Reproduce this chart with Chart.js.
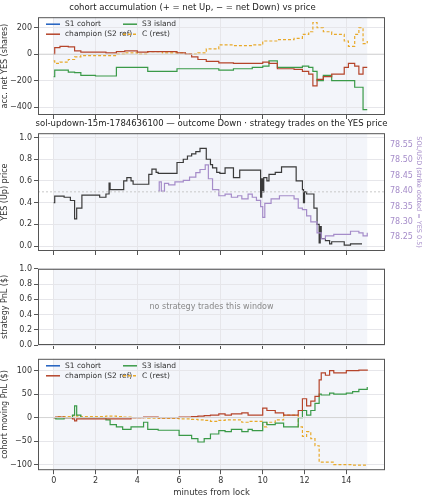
<!DOCTYPE html>
<html><head><meta charset="utf-8">
<script src="https://cdn.jsdelivr.net/npm/chart.js@4"></script>
<style>body{margin:0;background:#fff;width:423px;height:500px;position:relative;overflow:hidden}
.w{position:absolute;left:0;width:423px}</style></head><body>
<div class="w" style="top:0;height:122px"><canvas id="c1" width="423" height="122"></canvas></div>
<div class="w" style="top:116px;height:142px"><canvas id="c2" width="423" height="142"></canvas></div>
<div class="w" style="top:262px;height:90px"><canvas id="c3" width="423" height="90"></canvas></div>
<div class="w" style="top:352px;height:148px"><canvas id="c4" width="423" height="148"></canvas></div>
<script>
// ---- panel 1: accumulation (shares) ----
const accT   = [0,0.05,0.3,0.7,1.0,1.3,2.0,2.5,3.0,3.4,4.0,4.5,5.2,5.9,6.3,6.6,6.9,7.3,7.9,8.6,9.5,10.0,10.3,10.7,11.5,11.9,12.2,12.4,12.6,12.9,13.3,13.6,13.9,14.1,14.4,14.6,14.8,15.0];
const accChamp=[0,50,60,55,25,15,15,10,20,25,15,20,20,10,0,-20,-40,-55,-65,-70,-70,-60,-70,-110,-115,-130,-150,-240,-190,-170,-150,-150,-100,-70,-90,-150,-100,-100];
const accS3  = [-170,-120,-120,-135,-140,-160,-165,-165,-100,-100,-100,-130,-130,-110,-110,-110,-110,-110,-120,-110,-100,-90,-50,-100,-100,-90,-100,-130,-200,-160,-200,-200,-200,-200,-250,-250,-420,-420];
const accC   = [-50,-70,-60,-40,-20,-10,-10,-10,0,10,0,20,10,10,0,0,10,40,70,65,70,100,100,110,120,150,170,240,200,170,150,150,100,60,150,200,80,100];
// ---- panel 2: YES price & SOL ----
const yesT=[0,0.05,0.5,0.8,1.0,1.1,1.35,2.2,2.5,2.65,2.7,3.3,3.35,3.5,3.7,3.8,4.45,4.55,4.7,4.9,5.0,5.9,6.2,6.4,6.6,6.8,7.0,7.25,7.3,7.5,7.6,7.8,7.95,8.2,8.6,8.9,9.8,9.9,9.95,10.0,10.05,10.2,10.3,10.6,10.9,11.55,11.6,11.9,11.95,12.0,12.1,12.2,12.45,12.6,12.7,12.75,12.8,13.0,13.2,13.3,13.9,14.2,14.75];
const yesP=[0.40,0.46,0.45,0.42,0.25,0.35,0.47,0.45,0.48,0.58,0.52,0.52,0.60,0.63,0.60,0.57,0.57,0.66,0.71,0.68,0.67,0.77,0.80,0.83,0.85,0.87,0.90,0.90,0.80,0.75,0.72,0.68,0.67,0.72,0.63,0.70,0.70,0.45,0.62,0.50,0.63,0.60,0.66,0.68,0.73,0.73,0.60,0.52,0.40,0.50,0.48,0.48,0.35,0.20,0.03,0.18,0.07,0.05,0.02,0.04,0.01,0.02,0.02];
const solT=[5.0,5.05,5.15,5.3,5.5,5.8,6.2,6.5,6.8,7.0,7.25,7.4,7.6,7.9,8.2,8.5,8.8,9.0,9.3,9.5,9.7,9.9,10.0,10.1,10.4,10.8,11.3,11.5,11.7,11.9,12.1,12.3,12.6,12.8,13.0,13.4,13.9,14.2,14.6,14.8,15.0];
const solP=[78.40,78.43,78.40,78.425,78.42,78.43,78.435,78.445,78.46,78.47,78.485,78.44,78.405,78.385,78.39,78.38,78.385,78.375,78.39,78.38,78.37,78.35,78.315,78.36,78.375,78.385,78.385,78.375,78.345,78.34,78.32,78.30,78.265,78.245,78.255,78.26,78.26,78.27,78.265,78.255,78.265];
// ---- panel 4: moving PnL ($) ----
const pnlT=[0,0.1,0.5,0.9,1.0,1.1,1.3,2.5,2.7,3.0,3.3,3.7,4.3,4.5,5.0,6.0,6.6,6.9,7.2,7.5,7.9,8.2,8.5,9.0,9.3,9.5,10.0,10.2,10.6,11.0,11.6,11.7,11.9,12.1,12.3,12.5,12.7,12.8,13.0,13.2,13.4,14.0,14.3,14.6,15.0];
const pnlChamp=[0,1,0,-3,-7,-3,-3,-3,-3,-3,-3,0,1,1,0,1,2,3,4,5,8,5,8,10,5,5,20,15,10,5,5,15,40,25,35,45,80,95,90,100,95,100,100,101,102];
const pnlS3=[0,-3,0,5,25,5,0,-5,-15,-20,-25,-20,-10,-25,-27,-38,-45,-52,-45,-35,-28,-30,-25,-30,-25,-28,-10,-15,-12,-20,-20,0,15,5,15,30,50,48,48,52,50,52,55,60,65];
const pnlC=[0,2,2,4,5,3,2,3,3,2,1,0,0,-1,-2,-3,-4,-5,-6,-8,-6,-5,-5,-10,-8,-8,-20,-10,-5,5,5,-20,-40,-30,-45,-60,-95,-95,-95,-95,-100,-100,-101,-101,-102];
const xTicks=[0,2,4,6,8,10,12,14];

const C_S1='#1f5fbf',C_CH='#b5442a',C_S3='#3a9a48',C_C='#e8a92a',C_Y='#3a3a3a',C_SOL='#a58cc9';
const FONT='DejaVu Sans';
Chart.defaults.font.family=FONT; Chart.defaults.font.size=8; Chart.defaults.color='#333';
Chart.defaults.animation=false; Chart.defaults.devicePixelRatio=1;
const pts=(t,v)=>t.map((x,i)=>({x:x,y:v[i]}));
const line=(label,data,color,dash,yAxisID)=>({label,data,borderColor:color,backgroundColor:color,borderWidth:1.2,borderDash:dash||[],stepped:true,pointRadius:0,yAxisID:yAxisID||'y'});

const bgPlugin={id:'bg',beforeDraw(ch,a,o){const {ctx,chartArea:ca,scales}=ch;const x0=scales.x.getPixelForValue(0),x1=scales.x.getPixelForValue(15);
 ctx.save();ctx.fillStyle='#fff';ctx.fillRect(ca.left,ca.top,ca.width,ca.height);ctx.fillStyle='#f3f5fa';ctx.fillRect(x0,ca.top,x1-x0,ca.height);ctx.restore();},
 afterDatasetsDraw(ch,a,o){const {ctx,chartArea:ca,scales}=ch;ctx.save();
  (o.hlines||[]).forEach(h=>{const y=scales.y.getPixelForValue(h.v);ctx.strokeStyle=h.c||'#ccc';ctx.lineWidth=1;ctx.setLineDash(h.d||[]);ctx.beginPath();ctx.moveTo(ca.left,y);ctx.lineTo(ca.right,y);ctx.stroke();});
  ctx.setLineDash([]);ctx.strokeStyle='#555';ctx.lineWidth=1;ctx.strokeRect(ca.left+0.5,ca.top+0.5,ca.width-1,ca.height-1);
  if(o.msg){ctx.fillStyle='#888';ctx.font='8px '+FONT;ctx.textAlign='center';ctx.textBaseline='middle';ctx.fillText(o.msg,(ca.left+ca.right)/2,(ca.top+ca.bottom)/2);}
  if(o.legend){ctx.font='7.5px '+FONT;ctx.textBaseline='middle';ctx.textAlign='left';
   const items=[['S1 cohort',C_S1,[]],['champion (S2 ref)',C_CH,[]],['S3 island',C_S3,[]],['C (rest)',C_C,[3,2]]];
   items.forEach((it,i)=>{const col=Math.floor(i/2),row=i%2;const x=ca.left+8+col*77,y=ca.top+7+row*10;
    ctx.strokeStyle=it[1];ctx.lineWidth=1.5;ctx.setLineDash(it[2]);ctx.beginPath();ctx.moveTo(x,y);ctx.lineTo(x+14,y);ctx.stroke();ctx.setLineDash([]);
    ctx.fillStyle='#333';ctx.fillText(it[0],x+19,y);});}
  ctx.restore();}};

function xScale(labels,title){return {type:'linear',min:-0.75,max:15.85,afterBuildTicks:s=>{s.ticks=xTicks.map(v=>({value:v}));},
 grid:{color:'#e6e6ea',drawTicks:true,tickLength:4,tickColor:'#555'},border:{display:false},
 ticks:{display:labels,maxRotation:0,padding:2,color:'#333'},title:{display:!!title,text:title||'',padding:{top:0,bottom:0},font:{size:8.5}}};}
function yScale(min,max,ticks,title,fmt){return {min,max,afterBuildTicks:s=>{s.ticks=ticks.map(v=>({value:v}));},afterFit:s=>{s.width=38;},
 grid:{color:'#e6e6ea',tickLength:4,tickColor:'#555'},border:{display:false},
 ticks:{padding:2,callback:fmt||(v=>String(v).replace('-','\u2212'))},title:{display:true,text:title,padding:{top:0,bottom:2},font:{size:8}}};}
const titleOpt=t=>({display:true,text:t,font:{size:8.5,weight:'normal'},color:'#222',padding:{top:3,bottom:4}});
const base={responsive:true,maintainAspectRatio:false};

new Chart(document.getElementById('c1'),{type:'line',plugins:[bgPlugin],data:{datasets:[
 line('S1 cohort',[],C_S1),line('champion (S2 ref)',pts(accT,accChamp),C_CH),line('S3 island',pts(accT,accS3),C_S3),line('C (rest)',pts(accT,accC),C_C,[3,2])]},
 options:{...base,layout:{padding:{right:38,bottom:3}},plugins:{legend:{display:false},tooltip:{enabled:false},title:titleOpt('cohort accumulation (+ = net Up, \u2212 = net Down) vs price'),bg:{legend:true,hlines:[{v:0,c:'#d4d4d4'}]}},
 scales:{x:xScale(false),y:yScale(-460,280,[-400,-200,0,200],'acc. net YES (shares)')}}});

new Chart(document.getElementById('c2'),{type:'line',plugins:[bgPlugin],data:{datasets:[
 line('SOL',pts(solT,solP),C_SOL,[],'y2'),line('YES',pts(yesT,yesP),C_Y)]},
 options:{...base,layout:{padding:{bottom:3}},plugins:{legend:{display:false},tooltip:{enabled:false},title:titleOpt('sol-updown-15m-1784636100 \u2014 outcome Down \u00b7 strategy trades on the YES price'),bg:{hlines:[{v:0.5,c:'#c8c8c8',d:[2,2]}]}},
 scales:{x:xScale(false),y:yScale(-0.045,1.04,[0,0.2,0.4,0.6,0.8,1.0],'YES (Up) price',v=>v.toFixed(1)),
  y2:{position:'right',min:78.206,max:78.5875,afterBuildTicks:s=>{s.ticks=[78.25,78.30,78.35,78.40,78.45,78.50,78.55].map(v=>({value:v}));},afterFit:s=>{s.width=38;},
   grid:{display:false,tickLength:3,tickColor:C_SOL},border:{display:false},ticks:{color:C_SOL,padding:2,callback:v=>v.toFixed(2)},
   title:{display:true,text:'SOL/USD (strike dotted = YES 0.5)',color:C_SOL,font:{size:6.5},padding:{top:0,bottom:0}}}}}});

new Chart(document.getElementById('c3'),{type:'line',plugins:[bgPlugin],data:{datasets:[line('none',[],'#000')]},
 options:{...base,layout:{padding:{right:38,top:6,bottom:3}},plugins:{legend:{display:false},tooltip:{enabled:false},bg:{msg:'no strategy trades this window'}},
 scales:{x:xScale(false),y:yScale(0,1,[0,0.2,0.4,0.6,0.8,1.0],'strategy PnL ($)',v=>v.toFixed(1))}}});

new Chart(document.getElementById('c4'),{type:'line',plugins:[bgPlugin],data:{datasets:[
 line('S1 cohort',[],C_S1),line('champion (S2 ref)',pts(pnlT,pnlChamp),C_CH),line('S3 island',pts(pnlT,pnlS3),C_S3),line('C (rest)',pts(pnlT,pnlC),C_C,[3,2])]},
 options:{...base,layout:{padding:{right:38,top:6,bottom:2}},plugins:{legend:{display:false},tooltip:{enabled:false},bg:{legend:true,hlines:[{v:0,c:'#d4d4d4'}]}},
 scales:{x:xScale(true,'minutes from lock'),y:yScale(-112,125,[-100,-50,0,50,100],'cohort moving PnL ($)')}}});
</script></body></html>
